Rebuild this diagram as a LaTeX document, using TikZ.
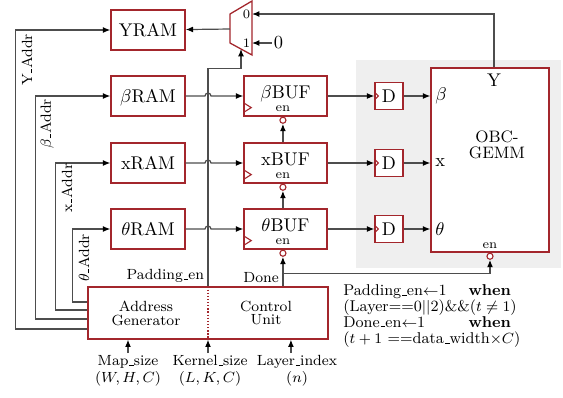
\documentclass[tikz,border=0pt]{standalone}
\usepackage{amsmath,amssymb}
\usepackage{xcolor}
\usepackage{tikz}
\usetikzlibrary{arrows.meta,positioning}
\definecolor{boxred}{HTML}{A3262C}
\definecolor{wire}{HTML}{4D4D4D}
\definecolor{bggray}{HTML}{EFEFEF}
\newcommand{\usc}{\leavevmode\kern.06em\vbox{\hrule width.3em}}
\tikzset{
  ar/.style={-{Latex[length=4pt,width=3.2pt,color=black]},line width=0.65pt,wire},
  box/.style={draw=boxred,line width=0.7pt,fill=white,align=center,inner sep=1pt},
  ramsz/.style={minimum width=40.2pt,minimum height=21.7pt,text height=6.9pt,text depth=0pt},
  bufsz/.style={minimum width=45.1pt,minimum height=21.7pt,text height=6.9pt,text depth=3.7pt},
  enc/.style={circle,draw=boxred,line width=0.6pt,fill=white,inner sep=0pt,minimum size=3.3pt,anchor=north},
  enl/.style={font=\scriptsize,anchor=base,inner sep=0pt},
  clk/.style={draw=boxred,line width=0.6pt},
  small/.style={font=\footnotesize,align=center}
}

\begin{document}
\begin{tikzpicture}[x=0.543pt,y=-0.543pt]
\useasboundingbox (0,0) rectangle (563,397);
\fill[bggray] (356,60) rectangle (561,268);
\node[box,ramsz] (ramy) at (148,30) {YRAM};
\foreach \n/\sym/\y in {b/$\beta$/96,x/x/163,t/$\theta$/229}{
  \node[box,ramsz] (ram\n) at (148,\y) {\sym RAM};
  \node[box,bufsz] (buf\n) at (285.5,\y) {\sym BUF};
  \node[box,minimum width=15.2pt,minimum height=14.7pt] (d\n) at (389,\y) {D};
  \draw[clk] ([yshift=2.2pt]buf\n.south west) -- ++(4.3pt,2.7pt) -- ++(-4.3pt,2.7pt);
  \draw[clk] ([yshift=2.2pt]d\n.west) -- ++(2.2pt,-2.2pt) -- ++(-2.2pt,-2.2pt);
  \node[enc] (en\n) at ([xshift=-1.4pt]buf\n.south) {};
  \node[enl] (el\n) at ([xshift=-1.4pt,yshift=2.8pt]buf\n.south) {en};
}
\node[box,minimum width=64.1pt,minimum height=99.9pt] (gemm) at (490,160) {};
\node[font=\small,align=center] (gtitle) at (497,145) {OBC-\\[-2.3pt]GEMM};
\node[anchor=north,inner sep=3.5pt] (py) at ([xshift=2.2pt]gemm.north) {Y};
\node[enc] (eng) at (gemm.south) {};
\node[enl] (elg) at ([yshift=2.5pt]gemm.south) {en};
\node[box,minimum width=130.3pt,minimum height=28.2pt] (ctrl) at (208,313) {};
\draw[boxred,densely dotted,line width=0.7pt] (ctrl.north) -- (ctrl.south);
\node[small] (agen) at (146,313) {Address\\[-2pt]Generator};
\node[small] (cunit) at (266,313) {Control\\[-2pt]Unit};
\foreach \n/\sym in {b/$\beta$,x/x,t/$\theta$}{
  \node[anchor=west,inner sep=2.5pt] (p\n) at (gemm.west |- d\n) {\sym};
  \draw[ar] (ram\n) -- ([xshift=-1.63pt]ram\n -| ctrl.north) arc[start angle=180,end angle=0,radius=1.63pt] -- (buf\n);
  \draw[ar] (buf\n) -- (d\n);
  \draw[ar] (d\n) -- (p\n.west);
}
\draw[boxred,line width=0.7pt,fill=white] (230,14) -- (252,1) -- (252,55) -- (230,43) -- cycle;
\coordinate (mux0) at (252,14);
\coordinate (mux1) at (252,43);
\coordinate (muxout) at (230,29);
\coordinate (muxsel) at (241,49);
\node[font=\scriptsize,inner sep=0pt] (m0) at (246.5,14) {0};
\node[font=\scriptsize,inner sep=0pt] (m1) at (246.5,43) {1};
\node[inner sep=1pt] (zero) at (278.5,43) {0};
\draw[ar] (muxout) -- (ramy);
\draw[ar] (zero) -- (mux1);
\draw[ar] ([xshift=2.2pt]gemm.north) |- (mux0);
\draw[ar] (ctrl.north) -- ++(0,-218) -| (muxsel);
\foreach \n/\o/\dx in {y/16/-72,b/6/-52,x/-3/-32,t/-11/-15}{
  \draw[ar] (ctrl.west) ++(0,\o) -- ++(\dx,0) |- (ram\n);
}
\foreach \n/\lx/\ly/\sym in {y/27/60/Y,b/47/124/$\beta$,x/67/188/x,t/84/258/$\theta$}{
  \node[font=\footnotesize,rotate=90,inner sep=0pt] (al\n) at (\lx,\ly) {\sym\usc Addr};
}
\draw[ar] (bufx.north -| enb) -- (enb);
\draw[ar] (buft.north -| enx) -- (enx);
\draw[ar] (ctrl.north -| ent) -- (ent);
\draw[ar] (ctrl.north -| ent) ++(0,-13) -| (eng);
\node[font=\footnotesize,anchor=south east,inner sep=2pt] (padl) at (ctrl.north) {Padding\usc en};
\node[font=\footnotesize,anchor=south east,inner sep=2pt] (donel) at (ctrl.north -| ent) {Done};
\node[small,inner sep=1pt,anchor=north] (msz) at (128,353) {Map\usc size\\$(W,H,C)$};
\node[small,inner sep=1pt,anchor=north] (ksz) at (210,353) {Kernel\usc size\\$(L,K,C)$};
\node[small,inner sep=1pt,anchor=north] (lidx) at (297,353) {Layer\usc index\\$(n)$};
\draw[ar] (msz) -- (msz |- ctrl.south);
\draw[ar] (ksz.north -| ctrl.south) -- (ctrl.south);
\draw[ar] ([xshift=-3.3pt]lidx.north) -- ([xshift=-3.3pt]lidx.north |- ctrl.south);
\node[font={\fontsize{8.5pt}{8.3pt}\selectfont},anchor=north west,inner sep=0pt] (cond) at (343,284) {\begin{tabular}{@{}l@{}}\makebox[91pt][l]{Padding\usc en$\leftarrow$1\hfill\textbf{when}}\\(Layer==0$||$2)\&\&($t\neq 1$)\\\makebox[91pt][l]{Done\usc en$\leftarrow$1\hfill\textbf{when}}\\($t+1$ ==data\usc width$\times C$)\end{tabular}};
\end{tikzpicture}
\end{document}
